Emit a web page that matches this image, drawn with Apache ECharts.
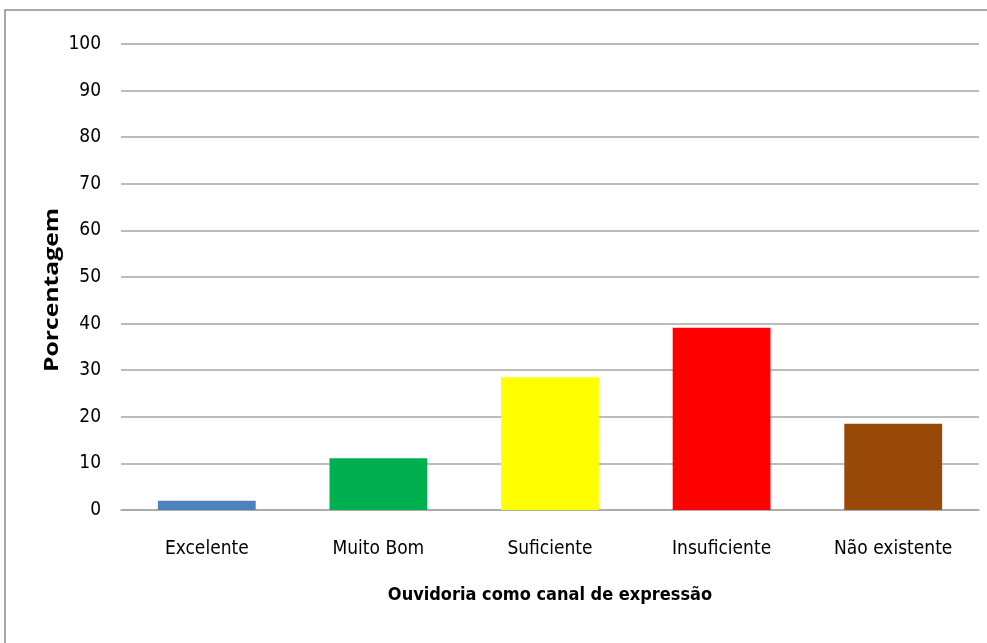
<!DOCTYPE html>
<html>
<head>
<meta charset="utf-8">
<script src="https://cdn.jsdelivr.net/npm/echarts@6/dist/echarts.min.js"></script>
<style>
  html, body { margin: 0; padding: 0; background: #ffffff; }
  #chart { width: 987px; height: 643px; }
</style>
</head>
<body>
<div id="chart"></div>
<script>
// Avaliação da ouvidoria como canal de expressão (%)
const categories = ['Excelente', 'Muito Bom', 'Suficiente', 'Insuficiente', 'Não existente'];
const values = [2.0, 11.1, 28.5, 39.1, 18.5];
const barColors = ['#4f81bd', '#00b050', '#ffff00', '#ff0000', '#984807'];
const yTicks = { min: 0, max: 100, interval: 10 };

const FONT = '"DejaVu Sans Condensed", "Liberation Sans Narrow", "Noto Sans", sans-serif';

const chart = echarts.init(document.getElementById('chart'), null, { renderer: 'canvas' });

chart.setOption({
  backgroundColor: '#ffffff',
  animation: false,
  grid: { left: 121, right: 8, top: 44, bottom: 133, containLabel: false },
  graphic: [
    {
      type: 'rect',
      shape: { x: 5, y: 10, width: 1000, height: 650 },
      style: { fill: 'none', stroke: '#8c8c8c', lineWidth: 1.5 },
      silent: true
    },
    {
      type: 'text',
      x: 53, y: 290,
      rotation: Math.PI / 2,
      scaleX: 1.3,
      style: {
        text: 'Porcentagem',
        fill: '#000000',
        font: 'bold 19px "Open Sans", "Noto Sans", sans-serif',
        textAlign: 'center',
        textVerticalAlign: 'middle'
      }
    }
  ],
  xAxis: {
    type: 'category',
    data: categories,
    name: 'Ouvidoria como canal de expressão',
    nameLocation: 'middle',
    nameGap: 76,
    nameTextStyle: { color: '#000000', fontFamily: FONT, fontWeight: 'bold', fontSize: 18 },
    axisLine: { show: true, lineStyle: { color: '#a6a6a6', width: 1.5 } },
    axisTick: { show: false },
    axisLabel: { color: '#000000', fontFamily: FONT, fontSize: 19, margin: 30, interval: 0 }
  },
  yAxis: {
    type: 'value',
    min: yTicks.min,
    max: yTicks.max,
    interval: yTicks.interval,
    axisLine: { show: false },
    axisTick: { show: false },
    axisLabel: { color: '#000000', fontFamily: FONT, fontSize: 19, margin: 20 },
    splitLine: { show: true, lineStyle: { color: '#a6a6a6', width: 1.5 } }
  },
  series: [{
    type: 'bar',
    data: values.map((v, i) => ({ value: v, itemStyle: { color: barColors[i] } })),
    barCategoryGap: '43%'
  }]
});
</script>
</body>
</html>
